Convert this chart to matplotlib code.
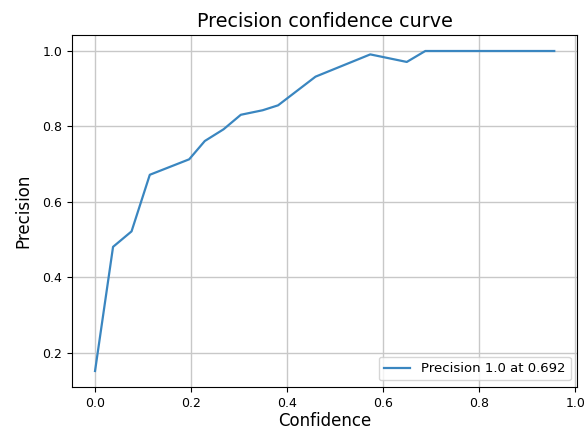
import matplotlib
matplotlib.use("Agg")
import matplotlib.pyplot as plt

confidence = [0.0, 0.0375, 0.076, 0.114, 0.196, 0.2285, 0.2675, 0.3035, 0.349, 0.381,
              0.459, 0.573, 0.649, 0.6875, 0.956]
precision = [0.152, 0.481, 0.522, 0.672, 0.713, 0.7615, 0.7925, 0.831, 0.843, 0.856,
             0.932, 0.991, 0.971, 1.0, 1.0]
legend_label = "Precision 1.0 at 0.692"

fig = plt.figure(figsize=(5.86, 4.30), dpi=100)
ax = fig.add_axes([0.123, 0.1, 0.862, 0.8186])
ax.plot(confidence, precision, color="#3a86c0", lw=1.6, label=legend_label)
ax.set_title("Precision confidence curve", fontsize=13.8)
ax.set_xlabel("Confidence", fontsize=12, labelpad=2)
ax.set_ylabel("Precision", fontsize=12, labelpad=7)
ax.tick_params(labelsize=9)
ax.set_xticks([0.0, 0.2, 0.4, 0.6, 0.8, 1.0])
ax.set_yticks([0.2, 0.4, 0.6, 0.8, 1.0])
ax.grid(True, color="#c8c8c8", lw=1.0)
ax.legend(loc="lower right", fontsize=9.5)
fig.savefig("out.png", dpi=100)
